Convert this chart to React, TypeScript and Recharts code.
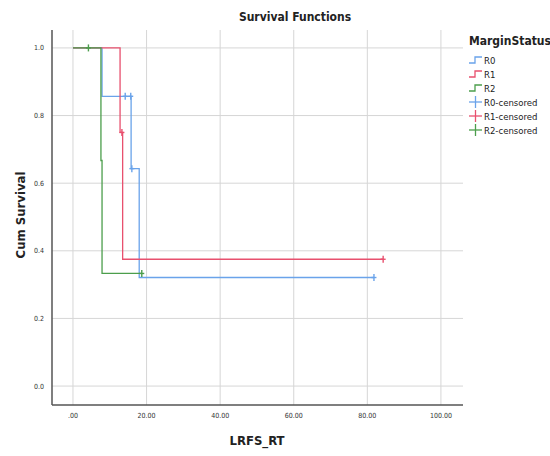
import React from "react";
import { ComposedChart, Line, Scatter, XAxis, YAxis, CartesianGrid } from "recharts";

// Kaplan-Meier step points (time, cum survival)
const r0Steps = [
  { t: 0, s: 1.0 },
  { t: 7.9, s: 0.857 },
  { t: 15.8, s: 0.643 },
  { t: 18.0, s: 0.321 },
  { t: 81.8, s: 0.321 },
];
const r1Steps = [
  { t: 0, s: 1.0 },
  { t: 12.8, s: 0.75 },
  { t: 13.5, s: 0.375 },
  { t: 84.3, s: 0.375 },
];
const r2Steps = [
  { t: 0, s: 1.0 },
  { t: 7.6, s: 0.667 },
  { t: 7.9, s: 0.333 },
  { t: 18.7, s: 0.333 },
];

// censored observations
const r0Censored = [
  { t: 14.2, s: 0.857 },
  { t: 15.7, s: 0.857 },
  { t: 16.0, s: 0.643 },
  { t: 81.8, s: 0.321 },
];
const r1Censored = [
  { t: 13.3, s: 0.75 },
  { t: 84.3, s: 0.375 },
];
const r2Censored = [
  { t: 4.2, s: 1.0 },
  { t: 18.7, s: 0.333 },
];

const xTicks = [0, 20, 40, 60, 80, 100];
const yTicks = [0, 0.2, 0.4, 0.6, 0.8, 1.0];

const BLUE = "#6aa3ea";
const RED = "#e8506e";
const GREEN = "#4c9e4c";
const FONT = "'DejaVu Sans', sans-serif";

const censorMark = (color: string) => (props: any) => {
  const { cx, cy } = props;
  return (
    <g stroke={color} strokeWidth={1.4}>
      <line x1={cx} y1={cy - 3.5} x2={cx} y2={cy + 3.5} />
      <line x1={cx - 2.5} y1={cy} x2={cx + 2.5} y2={cy} />
    </g>
  );
};

const StepIcon = ({ color }: { color: string }) => (
  <svg width={13} height={8} style={{ marginRight: 2 }}>
    <polyline points="0,7 6,7 6,1 13,1" fill="none" stroke={color} strokeWidth={1.3} />
  </svg>
);

const PlusIcon = ({ color }: { color: string }) => (
  <svg width={13} height={12} style={{ marginRight: 2 }}>
    <line x1={6.5} y1={0} x2={6.5} y2={12} stroke={color} strokeWidth={1.3} />
    <line x1={0} y1={6} x2={13} y2={6} stroke={color} strokeWidth={1.3} />
  </svg>
);

const legendItems = [
  { label: "R0", color: BLUE, icon: "step" },
  { label: "R1", color: RED, icon: "step" },
  { label: "R2", color: GREEN, icon: "step" },
  { label: "R0-censored", color: BLUE, icon: "plus" },
  { label: "R1-censored", color: RED, icon: "plus" },
  { label: "R2-censored", color: GREEN, icon: "plus" },
];

export default function App() {
  return (
    <div style={{ position: "absolute", left: 0, top: 0, width: 550, height: 456, background: "#fff", fontFamily: FONT, fontStretch: "condensed" }}>
      <ComposedChart width={550} height={456} margin={{ top: 30, right: 87, left: 12, bottom: 21 }}>
        <CartesianGrid stroke="#d6d6d6" strokeWidth={1} horizontalValues={yTicks} verticalValues={xTicks} />
        <XAxis
          type="number"
          dataKey="t"
          domain={[-5.7, 106]}
          ticks={xTicks}
          height={30}
          allowDataOverflow
          tickFormatter={(v: number) => (v === 0 ? ".00" : v.toFixed(2))}
          tick={{ fontSize: 7, fill: "#333", fontFamily: FONT, fontStretch: "condensed" } as any}
          tickLine={false}
          axisLine={{ stroke: "#555", strokeWidth: 1.5 }}
        />
        <YAxis
          type="number"
          dataKey="s"
          domain={[-0.056, 1.053]}
          ticks={yTicks}
          width={40}
          allowDataOverflow
          tickFormatter={(v: number) => v.toFixed(1)}
          tick={{ fontSize: 7, fill: "#333", fontFamily: FONT, fontStretch: "condensed" } as any}
          tickLine={false}
          axisLine={{ stroke: "#555", strokeWidth: 1.5 }}
        />
        <Line data={r0Steps} dataKey="s" type="stepAfter" stroke={BLUE} strokeWidth={1.3} dot={false} isAnimationActive={false} />
        <Line data={r1Steps} dataKey="s" type="stepAfter" stroke={RED} strokeWidth={1.3} dot={false} isAnimationActive={false} />
        <Line data={r2Steps} dataKey="s" type="stepAfter" stroke={GREEN} strokeWidth={1.3} dot={false} isAnimationActive={false} />
        <Scatter data={r0Censored} dataKey="s" shape={censorMark(BLUE)} isAnimationActive={false} />
        <Scatter data={r1Censored} dataKey="s" shape={censorMark(RED)} isAnimationActive={false} />
        <Scatter data={r2Censored} dataKey="s" shape={censorMark(GREEN)} isAnimationActive={false} />
      </ComposedChart>

      <div style={{ position: "absolute", left: 195, top: 10, width: 200, textAlign: "center", fontSize: 12, fontWeight: "bold", color: "#222" }}>
        Survival Functions
      </div>
      <div style={{ position: "absolute", left: 157, top: 433, width: 200, textAlign: "center", fontSize: 13, fontWeight: "bold", color: "#222" }}>
        LRFS_RT
      </div>
      <div
        style={{
          position: "absolute", left: 20, top: 215, width: 120, textAlign: "center", fontSize: 13, fontWeight: "bold", color: "#222",
          transform: "translate(-50%, -50%) rotate(-90deg)", whiteSpace: "nowrap",
        }}
      >
        Cum Survival
      </div>

      <div style={{ position: "absolute", left: 469, top: 34, color: "#222" }}>
        <div style={{ fontSize: 12, fontWeight: "bold", marginBottom: 5, whiteSpace: "nowrap" }}>MarginStatus</div>
        {legendItems.map((it) => (
          <div key={it.label} style={{ display: "flex", alignItems: "center", height: 14, fontSize: 9.5, whiteSpace: "nowrap" }}>
            {it.icon === "step" ? <StepIcon color={it.color} /> : <PlusIcon color={it.color} />}
            <span>{it.label}</span>
          </div>
        ))}
      </div>
    </div>
  );
}
